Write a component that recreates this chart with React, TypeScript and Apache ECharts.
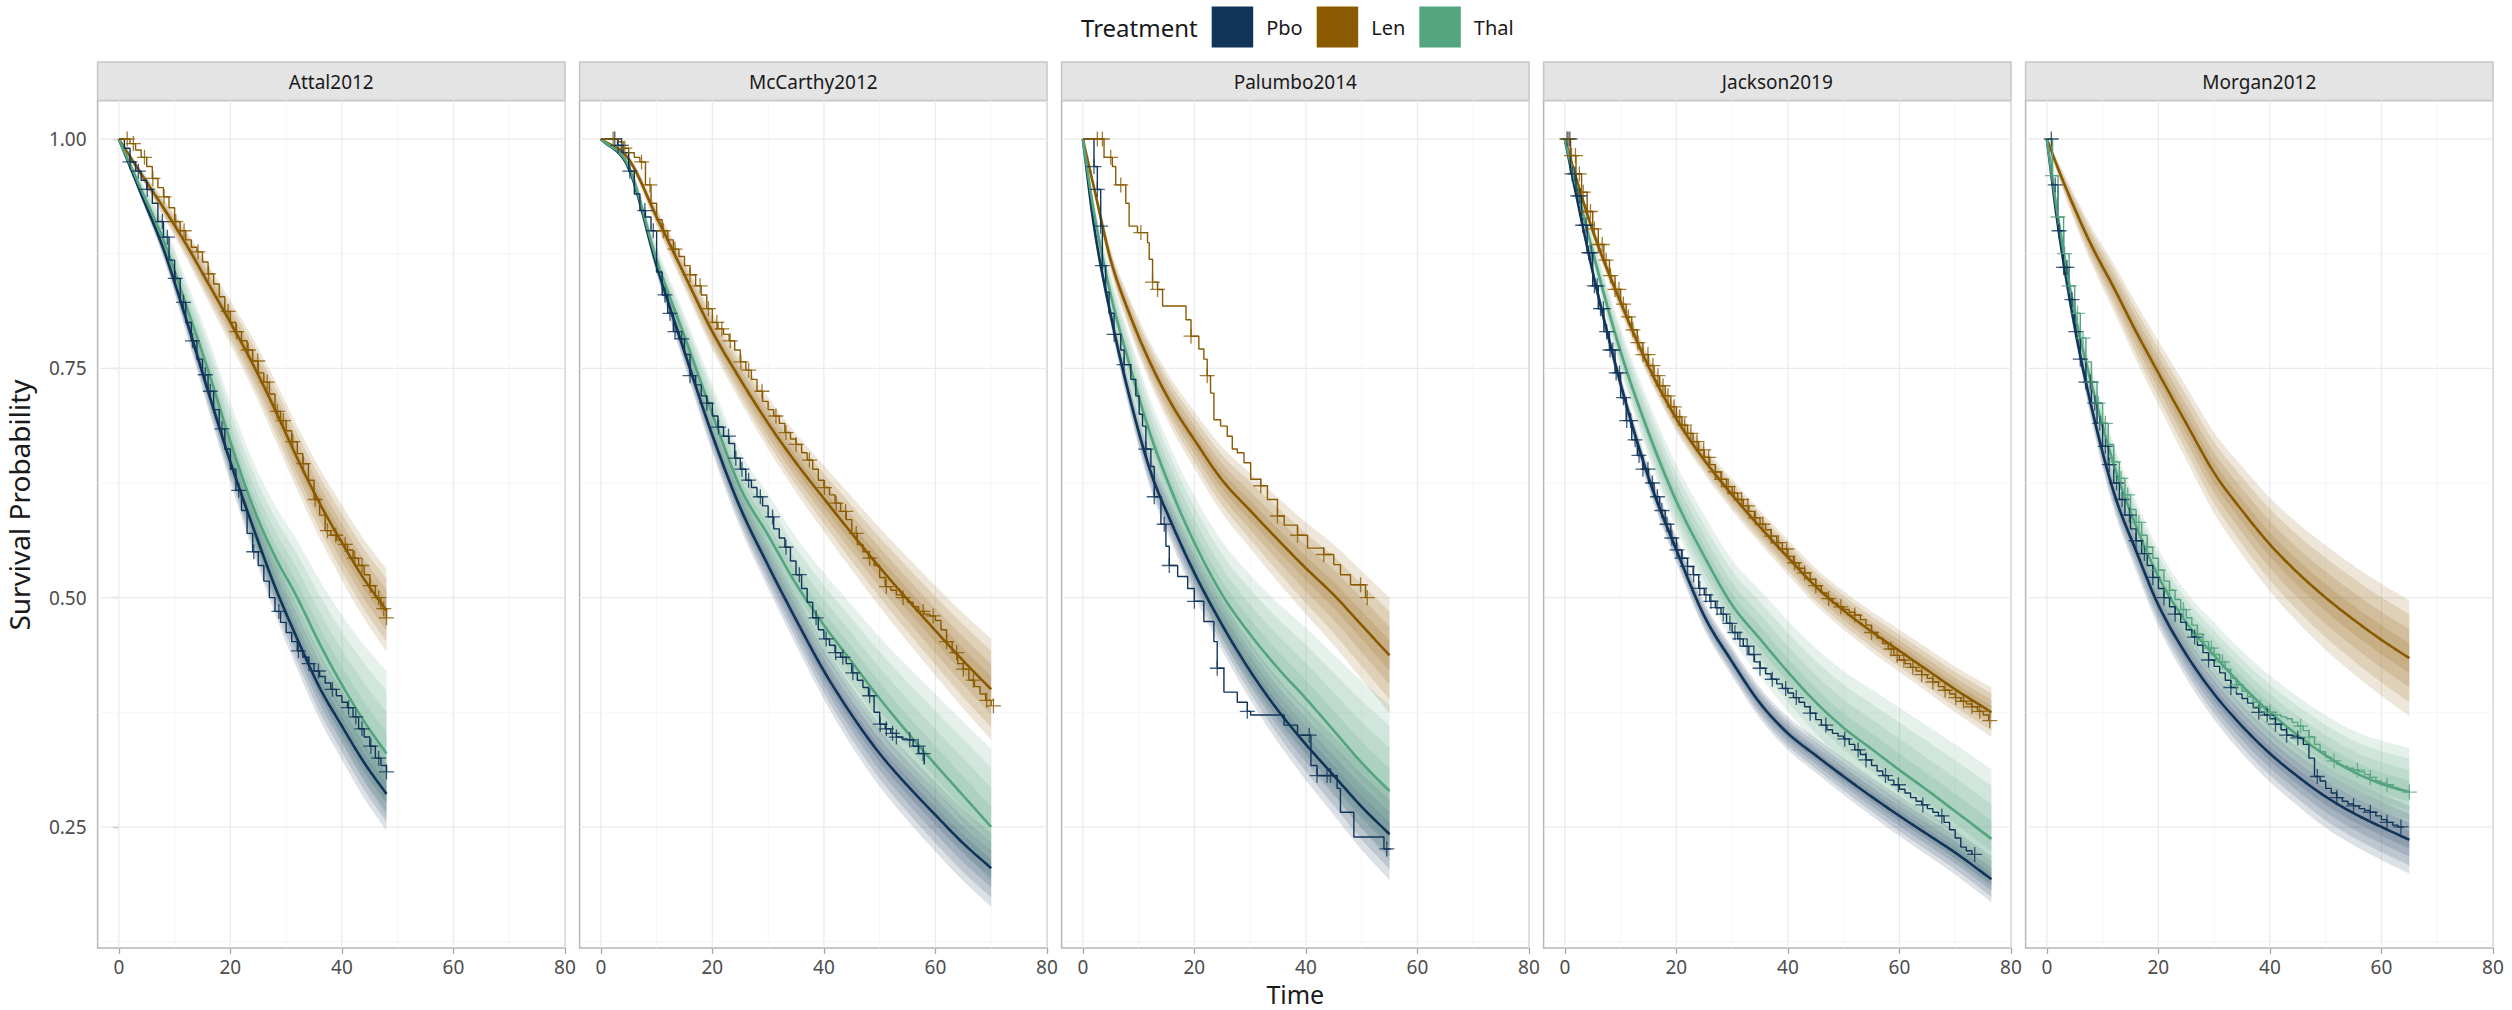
import React, { useEffect, useRef } from "react";
import * as echarts from "echarts";

const FONT = "'Noto Sans', 'DejaVu Sans', sans-serif";
const STUDIES = ["Attal2012", "McCarthy2012", "Palumbo2014", "Jackson2019", "Morgan2012"];
const TREATMENTS = ["Pbo", "Len", "Thal"];
const COLORS: Record<string, string> = { Pbo: "#113459", Len: "#8A5A00", Thal: "#55A480" };
const RGB: Record<string, number[]> = { Pbo: [17, 52, 89], Len: [138, 90, 0], Thal: [85, 164, 128] };

const X_TICKS = [0, 20, 40, 60, 80];
const Y_TICKS = [0.25, 0.5, 0.75, 1.0];
const X_MINOR = [10, 30, 50, 70];
const Y_MINOR = [0.125, 0.375, 0.625, 0.875];
const BAND_LEVELS = [1, 0.76, 0.5, 0.26];

// ---------- fitted survival curves (median) and outer band half-widths ----------
// Attal2012
const attalT = [0, 4, 8, 12, 16, 20, 24, 28, 32, 36, 40, 44, 48];
const attalPbo = [1, 0.94, 0.88, 0.805, 0.725, 0.648, 0.578, 0.512, 0.455, 0.402, 0.36, 0.32, 0.286];
const attalPboUp = [0, 0.005, 0.01, 0.015, 0.019, 0.023, 0.027, 0.031, 0.034, 0.037, 0.039, 0.041, 0.043];
const attalPboDn = [0, 0.005, 0.01, 0.015, 0.019, 0.023, 0.027, 0.03, 0.033, 0.035, 0.037, 0.039, 0.04];
const attalLen = [1, 0.962, 0.925, 0.886, 0.843, 0.8, 0.755, 0.705, 0.652, 0.603, 0.56, 0.52, 0.486];
const attalLenUp = [0, 0.005, 0.01, 0.015, 0.02, 0.024, 0.028, 0.032, 0.035, 0.038, 0.041, 0.043, 0.045];
const attalLenDn = [0, 0.005, 0.01, 0.015, 0.02, 0.024, 0.028, 0.032, 0.035, 0.038, 0.041, 0.043, 0.045];
const attalThal = [1, 0.945, 0.89, 0.82, 0.748, 0.67, 0.6, 0.545, 0.5, 0.45, 0.405, 0.365, 0.33];
const attalThalUp = [0, 0.01, 0.02, 0.028, 0.036, 0.043, 0.05, 0.056, 0.062, 0.069, 0.076, 0.083, 0.09];
const attalThalDn = [0, 0.008, 0.016, 0.022, 0.028, 0.034, 0.04, 0.045, 0.05, 0.055, 0.06, 0.065, 0.07];

// McCarthy2012
const mccT = [0, 5, 10, 15, 20, 25, 30, 35, 40, 45, 50, 55, 60, 65, 70];
const mccPbo = [1, 0.968, 0.862, 0.768, 0.677, 0.598, 0.535, 0.476, 0.42, 0.372, 0.33, 0.295, 0.263, 0.232, 0.205];
const mccPboUp = [0, 0.004, 0.01, 0.015, 0.019, 0.022, 0.025, 0.027, 0.029, 0.031, 0.033, 0.035, 0.036, 0.037, 0.038];
const mccPboDn = [0, 0.004, 0.01, 0.015, 0.019, 0.022, 0.025, 0.028, 0.031, 0.034, 0.036, 0.038, 0.04, 0.041, 0.042];
const mccLen = [1, 0.978, 0.915, 0.852, 0.79, 0.738, 0.69, 0.647, 0.608, 0.57, 0.533, 0.498, 0.464, 0.431, 0.4];
const mccLenUp = [0, 0.004, 0.01, 0.015, 0.02, 0.024, 0.028, 0.032, 0.036, 0.04, 0.043, 0.046, 0.049, 0.052, 0.055];
const mccLenDn = [0, 0.004, 0.01, 0.015, 0.02, 0.024, 0.028, 0.032, 0.036, 0.04, 0.043, 0.046, 0.049, 0.052, 0.055];
const mccThal = [1, 0.97, 0.868, 0.785, 0.7, 0.62, 0.568, 0.515, 0.47, 0.43, 0.39, 0.353, 0.318, 0.284, 0.25];
const mccThalUp = [0, 0.006, 0.015, 0.024, 0.032, 0.039, 0.045, 0.051, 0.057, 0.062, 0.067, 0.072, 0.077, 0.081, 0.085];
const mccThalDn = [0, 0.005, 0.012, 0.019, 0.025, 0.03, 0.035, 0.039, 0.043, 0.047, 0.05, 0.053, 0.056, 0.058, 0.06];

// Palumbo2014
const palT = [0, 2, 5, 8, 12, 16, 20, 25, 30, 35, 40, 45, 50, 55];
const palPbo = [1, 0.905, 0.808, 0.728, 0.64, 0.58, 0.527, 0.47, 0.42, 0.377, 0.34, 0.306, 0.272, 0.242];
const palPboUp = [0, 0.006, 0.011, 0.015, 0.019, 0.022, 0.025, 0.028, 0.031, 0.035, 0.039, 0.043, 0.047, 0.05];
const palPboDn = [0, 0.006, 0.011, 0.015, 0.019, 0.022, 0.025, 0.028, 0.031, 0.035, 0.039, 0.043, 0.047, 0.05];
const palLen = [1, 0.947, 0.868, 0.815, 0.757, 0.71, 0.672, 0.628, 0.595, 0.563, 0.532, 0.503, 0.47, 0.437];
const palLenUp = [0, 0.006, 0.012, 0.017, 0.022, 0.027, 0.031, 0.036, 0.041, 0.046, 0.05, 0.055, 0.059, 0.063];
const palLenDn = [0, 0.006, 0.012, 0.017, 0.022, 0.027, 0.031, 0.036, 0.041, 0.046, 0.05, 0.055, 0.059, 0.063];
const palThal = [1, 0.92, 0.83, 0.762, 0.68, 0.615, 0.56, 0.503, 0.46, 0.423, 0.39, 0.355, 0.32, 0.289];
const palThalUp = [0, 0.012, 0.022, 0.03, 0.038, 0.045, 0.051, 0.058, 0.065, 0.071, 0.077, 0.083, 0.089, 0.094];
const palThalDn = [0, 0.01, 0.018, 0.025, 0.031, 0.037, 0.042, 0.048, 0.053, 0.058, 0.063, 0.068, 0.072, 0.076];

// Jackson2019
const jacT = [0, 2, 5, 10, 15, 20, 25, 30, 35, 40, 45, 50, 55, 60, 65, 70, 76.5];
const jacPbo = [1, 0.94, 0.855, 0.733, 0.631, 0.552, 0.48, 0.43, 0.385, 0.352, 0.328, 0.305, 0.283, 0.262, 0.242, 0.222, 0.193];
const jacPboUp = [0, 0.004, 0.007, 0.01, 0.012, 0.014, 0.015, 0.016, 0.017, 0.018, 0.019, 0.02, 0.021, 0.022, 0.023, 0.024, 0.025];
const jacPboDn = [0, 0.004, 0.007, 0.01, 0.012, 0.014, 0.015, 0.016, 0.017, 0.018, 0.019, 0.02, 0.021, 0.022, 0.023, 0.024, 0.025];
const jacLen = [1, 0.958, 0.9, 0.822, 0.752, 0.695, 0.65, 0.612, 0.577, 0.544, 0.512, 0.486, 0.463, 0.442, 0.421, 0.4, 0.375];
const jacLenUp = [0, 0.004, 0.007, 0.01, 0.012, 0.014, 0.015, 0.017, 0.018, 0.019, 0.02, 0.021, 0.022, 0.023, 0.024, 0.025, 0.027];
const jacLenDn = [0, 0.004, 0.007, 0.01, 0.012, 0.014, 0.015, 0.017, 0.018, 0.019, 0.02, 0.021, 0.022, 0.023, 0.024, 0.025, 0.027];
const jacThal = [1, 0.95, 0.877, 0.768, 0.68, 0.605, 0.545, 0.492, 0.455, 0.419, 0.386, 0.358, 0.335, 0.312, 0.29, 0.267, 0.237];
const jacThalUp = [0, 0.008, 0.016, 0.026, 0.034, 0.04, 0.045, 0.049, 0.053, 0.056, 0.059, 0.062, 0.065, 0.068, 0.07, 0.073, 0.076];
const jacThalDn = [0, 0.006, 0.012, 0.02, 0.026, 0.031, 0.035, 0.038, 0.041, 0.043, 0.045, 0.047, 0.049, 0.05, 0.051, 0.052, 0.053];

// Morgan2012
const morT = [0, 2, 5, 8, 12, 16, 20, 25, 30, 35, 40, 45, 50, 55, 60, 65];
const morPbo = [1, 0.905, 0.795, 0.708, 0.615, 0.551, 0.492, 0.438, 0.395, 0.36, 0.33, 0.305, 0.283, 0.265, 0.25, 0.236];
const morPboUp = [0, 0.006, 0.011, 0.015, 0.019, 0.022, 0.024, 0.026, 0.028, 0.03, 0.031, 0.032, 0.034, 0.035, 0.036, 0.037];
const morPboDn = [0, 0.006, 0.011, 0.015, 0.019, 0.022, 0.024, 0.026, 0.028, 0.03, 0.031, 0.032, 0.034, 0.035, 0.036, 0.037];
const morLen = [1, 0.968, 0.924, 0.884, 0.838, 0.79, 0.745, 0.69, 0.636, 0.595, 0.558, 0.527, 0.5, 0.476, 0.454, 0.434];
const morLenUp = [0, 0.008, 0.015, 0.02, 0.026, 0.031, 0.035, 0.04, 0.044, 0.048, 0.051, 0.054, 0.057, 0.059, 0.061, 0.063];
const morLenDn = [0, 0.008, 0.015, 0.02, 0.026, 0.031, 0.035, 0.04, 0.044, 0.048, 0.051, 0.054, 0.057, 0.059, 0.061, 0.063];
const morThal = [1, 0.915, 0.81, 0.733, 0.645, 0.578, 0.523, 0.473, 0.437, 0.404, 0.375, 0.35, 0.328, 0.31, 0.297, 0.288];
const morThalUp = [0, 0.007, 0.013, 0.018, 0.023, 0.027, 0.03, 0.033, 0.036, 0.038, 0.04, 0.042, 0.044, 0.045, 0.047, 0.048];
const morThalDn = [0, 0.006, 0.011, 0.015, 0.019, 0.022, 0.025, 0.028, 0.03, 0.032, 0.034, 0.035, 0.037, 0.038, 0.039, 0.04];

// ---------- Kaplan-Meier estimates (value at each whole month from 0 unless times given) ----------
const attalPboKM = [1, 0.99, 0.975, 0.965, 0.955, 0.945, 0.93, 0.91, 0.893, 0.868, 0.848, 0.822, 0.8, 0.78, 0.76, 0.743, 0.725, 0.705, 0.684, 0.662, 0.64, 0.617, 0.595, 0.57, 0.55, 0.535, 0.518, 0.5, 0.485, 0.473, 0.462, 0.452, 0.442, 0.435, 0.428, 0.42, 0.414, 0.407, 0.4, 0.393, 0.386, 0.38, 0.37, 0.357, 0.348, 0.338, 0.325, 0.317, 0.31];
const attalPboCens = [2, 3.5, 5.1, 7.8, 8.7, 10.1, 11.6, 13.2, 15.5, 16.4, 18.5, 21.5, 24.2, 28.7, 32.2, 34.1, 35.8, 38.3, 41.2, 42.5, 43.6, 45.2, 46.6, 48];
const attalLenKM = [1, 1, 0.995, 0.988, 0.98, 0.97, 0.957, 0.947, 0.937, 0.925, 0.91, 0.9, 0.89, 0.882, 0.877, 0.866, 0.853, 0.842, 0.828, 0.812, 0.8, 0.79, 0.78, 0.77, 0.758, 0.745, 0.735, 0.722, 0.703, 0.693, 0.682, 0.67, 0.657, 0.646, 0.628, 0.607, 0.59, 0.573, 0.568, 0.563, 0.558, 0.552, 0.543, 0.535, 0.525, 0.513, 0.5, 0.488, 0.478];
const attalLenCens = [1.5, 2.6, 4.6, 6.1, 8.1, 10.2, 11.7, 14.2, 16.1, 19.6, 21.1, 23.2, 24.9, 26.6, 28.4, 29.5, 31.2, 33.1, 35.2, 37.4, 38.9, 40.6, 42.3, 43.6, 45.1, 46.6, 47.5, 48];

const mccPboKM = [1, 1, 1, 0.993, 0.985, 0.965, 0.94, 0.922, 0.915, 0.9, 0.855, 0.83, 0.81, 0.79, 0.782, 0.765, 0.742, 0.732, 0.72, 0.712, 0.698, 0.686, 0.676, 0.668, 0.652, 0.64, 0.628, 0.62, 0.61, 0.6, 0.588, 0.575, 0.565, 0.555, 0.54, 0.525, 0.51, 0.495, 0.478, 0.465, 0.455, 0.448, 0.44, 0.435, 0.428, 0.418, 0.41, 0.402, 0.393, 0.375, 0.362, 0.357, 0.352, 0.348, 0.346, 0.345, 0.338, 0.33, 0.318];
const mccPboCens = [2.5, 3.1, 3.7, 5.2, 7.9, 9.4, 11.5, 12.4, 13.3, 14.5, 16, 19, 21.1, 22.9, 24.2, 25.3, 26.5, 28.6, 30.8, 33.2, 35.6, 38.6, 40.4, 42.1, 43.4, 45.2, 48.2, 50.1, 51.2, 52.3, 53, 55.4, 56.9, 57.8];
const mccLenKM = [1, 1, 1, 0.997, 0.99, 0.985, 0.98, 0.975, 0.95, 0.93, 0.912, 0.9, 0.89, 0.88, 0.872, 0.862, 0.852, 0.84, 0.83, 0.815, 0.8, 0.793, 0.787, 0.78, 0.77, 0.757, 0.748, 0.738, 0.725, 0.714, 0.705, 0.698, 0.69, 0.68, 0.673, 0.667, 0.658, 0.65, 0.64, 0.628, 0.62, 0.612, 0.603, 0.594, 0.585, 0.57, 0.558, 0.55, 0.543, 0.535, 0.522, 0.512, 0.508, 0.503, 0.5, 0.495, 0.49, 0.485, 0.482, 0.48, 0.475, 0.465, 0.452, 0.44, 0.428, 0.422, 0.41, 0.403, 0.395, 0.388, 0.382];
const mccLenCens = [2.2, 4.3, 7.3, 8.8, 11.2, 13.3, 16, 17.8, 19.3, 20.8, 21.7, 23.2, 25.1, 26.5, 28.9, 31.4, 33.2, 35, 37.4, 40.1, 42.2, 43.9, 45.8, 48.2, 51.2, 54.2, 57.8, 59.6, 62, 63.8, 65, 66.8, 69.2, 70.4];

const palPboKMt = [0, 2, 2.6, 3.2, 3.5, 4.1, 4.7, 5.6, 6.8, 7.4, 8.6, 9.5, 10.1, 10.7, 11.3, 12.2, 12.8, 14, 14.9, 15.5, 17, 18.8, 20, 21.7, 23.5, 24.1, 25.3, 27.7, 29.5, 30.1, 36.1, 38.5, 40.9, 42, 45.6, 46.2, 48.6, 54, 55.2];
const palPboKM = [1, 0.97, 0.945, 0.905, 0.862, 0.833, 0.81, 0.787, 0.77, 0.754, 0.738, 0.72, 0.7, 0.687, 0.662, 0.643, 0.61, 0.58, 0.556, 0.535, 0.523, 0.51, 0.496, 0.474, 0.452, 0.423, 0.397, 0.386, 0.376, 0.372, 0.361, 0.35, 0.317, 0.306, 0.292, 0.266, 0.239, 0.226, 0.226];
const palPboCens = [2, 2.6, 3.2, 3.5, 5.6, 7.4, 11.3, 12.8, 14.6, 15.5, 20, 24.1, 29.5, 40.6, 42, 43.8, 44.4, 54.5];
const palLenKMt = [0, 3.8, 5.3, 5.9, 7.7, 8.3, 9.8, 11.6, 11.9, 12.5, 13.4, 14.3, 18.5, 19.4, 20.8, 21.7, 22.3, 22.9, 23.5, 24.7, 25.9, 26.8, 27.7, 28.9, 30.1, 31.9, 33.1, 34.9, 36.1, 38.5, 40.3, 43.2, 45, 46.2, 48, 50.7, 51];
const palLenKM = [1, 0.98, 0.97, 0.95, 0.93, 0.905, 0.898, 0.887, 0.869, 0.844, 0.836, 0.818, 0.803, 0.785, 0.771, 0.76, 0.742, 0.723, 0.694, 0.687, 0.676, 0.662, 0.658, 0.647, 0.629, 0.622, 0.607, 0.589, 0.579, 0.568, 0.554, 0.547, 0.536, 0.525, 0.514, 0.5, 0.5];
const palLenCens = [2.6, 3.5, 5, 6.8, 10.4, 12.5, 13.4, 19.4, 22.3, 31.9, 34.9, 38.5, 43.2, 49.8, 51];

const jacPboKM = [1, 0.962, 0.938, 0.906, 0.876, 0.84, 0.815, 0.79, 0.77, 0.745, 0.718, 0.693, 0.672, 0.655, 0.64, 0.625, 0.61, 0.595, 0.58, 0.565, 0.552, 0.543, 0.534, 0.525, 0.51, 0.503, 0.496, 0.489, 0.482, 0.472, 0.462, 0.455, 0.447, 0.438, 0.43, 0.423, 0.417, 0.411, 0.406, 0.401, 0.396, 0.391, 0.386, 0.381, 0.374, 0.367, 0.361, 0.356, 0.352, 0.349, 0.346, 0.34, 0.334, 0.329, 0.323, 0.317, 0.311, 0.306, 0.301, 0.296, 0.291, 0.287, 0.282, 0.278, 0.274, 0.27, 0.266, 0.262, 0.255, 0.247, 0.238, 0.228, 0.224, 0.22];
const jacPboCens = [0.4, 0.9, 1.3, 1.8, 2.3, 2.7, 3.2, 3.8, 4.3, 4.7, 5.3, 5.8, 6.4, 6.9, 7.5, 8.1, 8.6, 9.2, 9.8, 10.5, 11.1, 11.8, 12.6, 13.3, 14, 14.9, 15.7, 16.6, 17.4, 18.3, 19.2, 20.1, 21, 22, 23.1, 24.2, 25.3, 26.2, 27.3, 28.4, 29.6, 30.5, 31.4, 32.7, 33.9, 35, 37.2, 39.6, 41.5, 44, 46.8, 50.2, 52.6, 54, 57.5, 59.8, 64.2, 67.6, 73.5];
const jacLenKM = [1, 0.982, 0.962, 0.942, 0.921, 0.902, 0.885, 0.868, 0.851, 0.836, 0.82, 0.806, 0.792, 0.778, 0.765, 0.753, 0.742, 0.731, 0.72, 0.708, 0.697, 0.688, 0.679, 0.67, 0.661, 0.653, 0.645, 0.637, 0.629, 0.621, 0.614, 0.607, 0.6, 0.594, 0.587, 0.58, 0.574, 0.567, 0.56, 0.553, 0.545, 0.538, 0.532, 0.527, 0.52, 0.513, 0.505, 0.499, 0.494, 0.49, 0.487, 0.484, 0.481, 0.476, 0.47, 0.462, 0.456, 0.45, 0.444, 0.437, 0.432, 0.428, 0.424, 0.42, 0.416, 0.412, 0.408, 0.403, 0.399, 0.395, 0.391, 0.387, 0.384, 0.381, 0.376, 0.372, 0.366];
const jacLenCens = [0.6, 1.2, 1.9, 2.6, 3.3, 4, 4.6, 5.3, 6, 6.7, 7.4, 8.2, 9, 9.7, 10.5, 11.4, 12.2, 13.1, 14, 14.9, 15.8, 16.7, 17.6, 18.5, 19.6, 20.6, 21.5, 22.6, 23.7, 24.9, 25.8, 27, 28.1, 29.3, 30.4, 31.7, 32.8, 34.2, 35.5, 37, 38.3, 39.8, 41.2, 43, 45, 47.3, 49.5, 52, 55, 58.5, 59.6, 60.8, 62.4, 64, 66, 68.2, 70.1, 71.5, 73, 74.4, 76.2];

const morPboKM = [1, 0.95, 0.9, 0.86, 0.825, 0.79, 0.76, 0.735, 0.712, 0.69, 0.665, 0.645, 0.625, 0.607, 0.59, 0.575, 0.562, 0.548, 0.535, 0.522, 0.51, 0.5, 0.49, 0.482, 0.473, 0.465, 0.457, 0.448, 0.44, 0.432, 0.425, 0.418, 0.41, 0.402, 0.395, 0.39, 0.385, 0.38, 0.375, 0.372, 0.368, 0.362, 0.356, 0.35, 0.349, 0.347, 0.34, 0.325, 0.305, 0.3, 0.292, 0.287, 0.282, 0.278, 0.275, 0.273, 0.27, 0.268, 0.266, 0.262, 0.258, 0.255, 0.252, 0.25, 0.25];
const morPboCens = [0.8, 1.5, 2.2, 3, 3.6, 4.5, 5.2, 6, 7, 7.8, 8.6, 9.5, 10.5, 11.2, 12.5, 13.5, 14.8, 16, 17.5, 19, 21, 23, 26.5, 29, 33, 38, 39.5, 41, 43, 45, 48.5, 52, 55, 58, 61, 63.5];
const morThalKM = [1, 0.96, 0.915, 0.875, 0.84, 0.81, 0.783, 0.757, 0.735, 0.712, 0.69, 0.667, 0.648, 0.63, 0.612, 0.596, 0.582, 0.568, 0.555, 0.543, 0.53, 0.518, 0.508, 0.498, 0.487, 0.478, 0.47, 0.46, 0.452, 0.445, 0.438, 0.43, 0.422, 0.412, 0.405, 0.398, 0.392, 0.386, 0.381, 0.378, 0.375, 0.372, 0.37, 0.368, 0.364, 0.36, 0.355, 0.348, 0.34, 0.332, 0.326, 0.322, 0.318, 0.316, 0.314, 0.312, 0.31, 0.307, 0.304, 0.3, 0.298, 0.296, 0.293, 0.29, 0.289, 0.288];
const morThalCens = [1, 2, 3.2, 4, 5.5, 6.5, 8, 9.2, 10.5, 12, 13.3, 14.5, 16.5, 18, 20, 22, 24.5, 27, 29.5, 31.5, 34, 38.3, 40, 45.5, 47, 51.5, 55.7, 58, 61, 65];

type Fit = { t: number[]; mid: number[]; up: number[]; dn: number[] };
type KM = { t: number[]; s: number[]; cens: number[] };

const monthly = (s: number[]) => s.map((_, i) => i);

const FITS: Record<string, Record<string, Fit>> = {
  Attal2012: {
    Pbo: { t: attalT, mid: attalPbo, up: attalPboUp, dn: attalPboDn },
    Len: { t: attalT, mid: attalLen, up: attalLenUp, dn: attalLenDn },
    Thal: { t: attalT, mid: attalThal, up: attalThalUp, dn: attalThalDn },
  },
  McCarthy2012: {
    Pbo: { t: mccT, mid: mccPbo, up: mccPboUp, dn: mccPboDn },
    Len: { t: mccT, mid: mccLen, up: mccLenUp, dn: mccLenDn },
    Thal: { t: mccT, mid: mccThal, up: mccThalUp, dn: mccThalDn },
  },
  Palumbo2014: {
    Pbo: { t: palT, mid: palPbo, up: palPboUp, dn: palPboDn },
    Len: { t: palT, mid: palLen, up: palLenUp, dn: palLenDn },
    Thal: { t: palT, mid: palThal, up: palThalUp, dn: palThalDn },
  },
  Jackson2019: {
    Pbo: { t: jacT, mid: jacPbo, up: jacPboUp, dn: jacPboDn },
    Len: { t: jacT, mid: jacLen, up: jacLenUp, dn: jacLenDn },
    Thal: { t: jacT, mid: jacThal, up: jacThalUp, dn: jacThalDn },
  },
  Morgan2012: {
    Pbo: { t: morT, mid: morPbo, up: morPboUp, dn: morPboDn },
    Len: { t: morT, mid: morLen, up: morLenUp, dn: morLenDn },
    Thal: { t: morT, mid: morThal, up: morThalUp, dn: morThalDn },
  },
};

const KMS: Record<string, Record<string, KM>> = {
  Attal2012: {
    Pbo: { t: monthly(attalPboKM), s: attalPboKM, cens: attalPboCens },
    Len: { t: monthly(attalLenKM), s: attalLenKM, cens: attalLenCens },
  },
  McCarthy2012: {
    Pbo: { t: monthly(mccPboKM), s: mccPboKM, cens: mccPboCens },
    Len: { t: monthly(mccLenKM), s: mccLenKM, cens: mccLenCens },
  },
  Palumbo2014: {
    Pbo: { t: palPboKMt, s: palPboKM, cens: palPboCens },
    Len: { t: palLenKMt, s: palLenKM, cens: palLenCens },
  },
  Jackson2019: {
    Pbo: { t: monthly(jacPboKM), s: jacPboKM, cens: jacPboCens },
    Len: { t: monthly(jacLenKM), s: jacLenKM, cens: jacLenCens },
  },
  Morgan2012: {
    Pbo: { t: monthly(morPboKM), s: morPboKM, cens: morPboCens },
    Thal: { t: monthly(morThalKM), s: morThalKM, cens: morThalCens },
  },
};

const kmAt = (km: KM, x: number) => {
  let v = km.s[0];
  for (let i = 0; i < km.t.length; i++) if (km.t[i] <= x + 1e-9) v = km.s[i];
  return v;
};

const rgba = (c: number[], a: number) => `rgba(${c[0]},${c[1]},${c[2]},${a})`;

// Monotone cubic (Fritsch-Carlson) drawing path through the given points, used only to
// render smooth curve segments between the read values.
function smoothPath(xs: number[], ys: number[], perSeg = 10): number[][] {
  const n = xs.length;
  const d: number[] = [];
  for (let i = 0; i < n - 1; i++) d.push((ys[i + 1] - ys[i]) / (xs[i + 1] - xs[i]));
  const m: number[] = new Array(n);
  m[0] = d[0];
  m[n - 1] = d[n - 2];
  for (let i = 1; i < n - 1; i++) m[i] = d[i - 1] * d[i] <= 0 ? 0 : (d[i - 1] + d[i]) / 2;
  for (let i = 0; i < n - 1; i++) {
    if (d[i] === 0) {
      m[i] = 0;
      m[i + 1] = 0;
      continue;
    }
    const a = m[i] / d[i];
    const b = m[i + 1] / d[i];
    const s = a * a + b * b;
    if (s > 9) {
      const k = 3 / Math.sqrt(s);
      m[i] = k * a * d[i];
      m[i + 1] = k * b * d[i];
    }
  }
  const out: number[][] = [];
  for (let i = 0; i < n - 1; i++) {
    const h = xs[i + 1] - xs[i];
    for (let k = 0; k < perSeg; k++) {
      const s = k / perSeg;
      const s2 = s * s;
      const s3 = s2 * s;
      const h00 = 2 * s3 - 3 * s2 + 1;
      const h10 = s3 - 2 * s2 + s;
      const h01 = -2 * s3 + 3 * s2;
      const h11 = s3 - s2;
      out.push([xs[i] + s * h, h00 * ys[i] + h10 * h * m[i] + h01 * ys[i + 1] + h11 * h * m[i + 1]]);
    }
  }
  out.push([xs[n - 1], ys[n - 1]]);
  return out;
}

const PLUS = "path://M0,-8L0,8M-8,0L8,0";

// layout
const P_LEFT = 97.6;
const P_PITCH = 482;
const P_W = 467.4;
const P_TOP = 100.5;
const P_BOTTOM = 948;
const STRIP_TOP = 62;
const X_MIN = -3.81;
const X_MAX = 80.01;
const Y_MIN = 0.118;
const Y_MAX = 1.042;

const GRIDLINES: number[][] = [
  ...X_TICKS.map((v) => [v, 0, 1]),
  ...X_MINOR.map((v) => [v, 0, 0]),
  ...Y_TICKS.map((v) => [v, 1, 1]),
  ...Y_MINOR.map((v) => [v, 1, 0]),
];

function buildOption() {
  const grid = STUDIES.map((_, i) => ({
    left: P_LEFT + P_PITCH * i,
    top: P_TOP,
    width: P_W,
    height: P_BOTTOM - P_TOP,
    show: true,
    borderColor: "#b5b5b5",
    borderWidth: 1.5,
    backgroundColor: "transparent",
  }));

  const xAxis = STUDIES.map((_, i) => ({
    type: "value",
    gridIndex: i,
    min: X_MIN,
    max: X_MAX,
    axisLine: { show: false },
    splitLine: { show: false },
    axisTick: { show: true, customValues: X_TICKS, length: 6, lineStyle: { color: "#a6a6a6", width: 1.3 } },
    axisLabel: {
      show: true,
      customValues: X_TICKS,
      color: "#4d4d4d",
      fontSize: 19,
      fontFamily: FONT,
      margin: 9,
      formatter: (v: number) => String(v),
    },
  }));

  const yAxis = STUDIES.map((_, i) => ({
    type: "value",
    gridIndex: i,
    min: Y_MIN,
    max: Y_MAX,
    axisLine: { show: false },
    splitLine: { show: false },
    axisTick: { show: i === 0, customValues: Y_TICKS, length: 6, lineStyle: { color: "#a6a6a6", width: 1.3 } },
    axisLabel: {
      show: i === 0,
      customValues: Y_TICKS,
      color: "#4d4d4d",
      fontSize: 19,
      fontFamily: FONT,
      margin: 11,
      formatter: (v: number) => v.toFixed(2),
    },
  }));

  const series: any[] = [];
  STUDIES.forEach((study, gi) => {
    series.push({
      type: "custom",
      name: "grid-" + study,
      xAxisIndex: gi,
      yAxisIndex: gi,
      silent: true,
      z: 1,
      data: GRIDLINES,
      renderItem: (params: any, api: any) => {
        const v = api.value(0);
        const o = api.value(1);
        const maj = api.value(2);
        const cs = params.coordSys;
        let shape;
        if (o === 0) {
          const p = api.coord([v, 0.5]);
          shape = { x1: p[0], y1: cs.y, x2: p[0], y2: cs.y + cs.height };
        } else {
          const p = api.coord([0, v]);
          shape = { x1: cs.x, y1: p[1], x2: cs.x + cs.width, y2: p[1] };
        }
        return {
          type: "line",
          shape,
          style: { stroke: maj ? "#ebebeb" : "#f5f5f5", lineWidth: maj ? 1.3 : 0.9 },
        };
      },
    });

    // credible-interval ribbons (nested levels)
    TREATMENTS.forEach((trt) => {
      const f = FITS[study][trt];
      series.push({
        type: "custom",
        name: `${study}-${trt}-ribbon`,
        xAxisIndex: gi,
        yAxisIndex: gi,
        silent: true,
        z: 2,
        data: [[f.t[0], f.mid[0]]],
        renderItem: (_params: any, api: any) => {
          const children = BAND_LEVELS.map((lv) => {
            const upper = smoothPath(f.t, f.mid.map((v, n) => v + f.up[n] * lv));
            const lower = smoothPath(f.t, f.mid.map((v, n) => v - f.dn[n] * lv));
            const pts = upper.concat(lower.slice().reverse()).map((p) => api.coord(p));
            return {
              type: "polygon",
              shape: { points: pts },
              style: { fill: rgba(RGB[trt], 0.15), stroke: "none" },
            };
          });
          return { type: "group", children };
        },
      });
    });

    // fitted (median) survival curves
    TREATMENTS.forEach((trt) => {
      const f = FITS[study][trt];
      series.push({
        type: "custom",
        name: trt,
        xAxisIndex: gi,
        yAxisIndex: gi,
        silent: true,
        z: 3,
        itemStyle: { color: COLORS[trt] },
        data: [[f.t[0], f.mid[0]]],
        renderItem: (_params: any, api: any) => {
          const pts = smoothPath(f.t, f.mid).map((p) => api.coord(p));
          return {
            type: "polyline",
            shape: { points: pts },
            style: { stroke: COLORS[trt], lineWidth: 2.6, fill: "none", lineJoin: "round" },
          };
        },
      });
    });

    // Kaplan-Meier step curves and censoring marks
    Object.keys(KMS[study]).forEach((trt) => {
      const km = KMS[study][trt];
      series.push({
        type: "line",
        name: `${study}-${trt}-km`,
        xAxisIndex: gi,
        yAxisIndex: gi,
        step: "end",
        symbol: "none",
        silent: true,
        z: 4,
        lineStyle: { color: COLORS[trt], width: 1.4 },
        data: km.t.map((t, n) => [t, km.s[n]]),
      });
      series.push({
        type: "scatter",
        name: `${study}-${trt}-cens`,
        xAxisIndex: gi,
        yAxisIndex: gi,
        symbol: PLUS,
        symbolSize: 15,
        silent: true,
        z: 5,
        itemStyle: { color: "rgba(0,0,0,0)", borderColor: COLORS[trt], borderWidth: 1.3 },
        data: km.cens.map((c) => [c, kmAt(km, c)]),
      });
    });
  });

  const graphic: any[] = [];
  STUDIES.forEach((study, i) => {
    const left = P_LEFT + P_PITCH * i;
    graphic.push({
      type: "rect",
      silent: true,
      shape: { x: left, y: STRIP_TOP, width: P_W, height: P_TOP - STRIP_TOP },
      style: { fill: "#e4e4e4", stroke: "#c6c6c6", lineWidth: 1.5 },
    });
    graphic.push({
      type: "text",
      silent: true,
      x: left + P_W / 2,
      y: (STRIP_TOP + P_TOP) / 2 + 1,
      style: {
        text: study,
        fontSize: 19,
        fontFamily: FONT,
        fill: "#1a1a1a",
        align: "center",
        verticalAlign: "middle",
      },
    });
  });
  graphic.push({
    type: "text",
    silent: true,
    x: 1081,
    y: 27,
    style: { text: "Treatment", fontSize: 24, fontFamily: FONT, fill: "#1a1a1a", verticalAlign: "middle" },
  });
  graphic.push({
    type: "text",
    silent: true,
    x: (P_LEFT + P_LEFT + P_PITCH * 4 + P_W) / 2,
    y: 994,
    style: { text: "Time", fontSize: 25, fontFamily: FONT, fill: "#1a1a1a", align: "center", verticalAlign: "middle" },
  });
  graphic.push({
    type: "text",
    silent: true,
    x: 19,
    y: (STRIP_TOP + P_BOTTOM) / 2,
    rotation: Math.PI / 2,
    style: {
      text: "Survival Probability",
      fontSize: 28,
      fontFamily: FONT,
      fill: "#1a1a1a",
      align: "center",
      verticalAlign: "middle",
    },
  });

  return {
    animation: false,
    backgroundColor: "#ffffff",
    textStyle: { fontFamily: FONT },
    legend: {
      left: 1211.7,
      top: 6.5,
      padding: 0,
      itemWidth: 41.5,
      itemHeight: 41,
      itemGap: 14,
      selectedMode: false,
      icon: "rect",
      textStyle: { fontSize: 20, color: "#1a1a1a", fontFamily: FONT, padding: [0, 0, 0, 8] },
      data: TREATMENTS.map((t) => ({
        name: t,
        icon: "rect",
        itemStyle: { color: COLORS[t], borderWidth: 0 },
      })),
    },
    grid,
    xAxis,
    yAxis,
    series,
    graphic,
  };
}

export default function App() {
  const ref = useRef<HTMLDivElement>(null);
  useEffect(() => {
    document.body.style.margin = "0";
    if (!ref.current) return;
    const chart = echarts.init(ref.current, undefined, { renderer: "svg" });
    chart.setOption(buildOption() as any);
    return () => chart.dispose();
  }, []);
  return <div ref={ref} style={{ width: 2512, height: 1010 }} />;
}
